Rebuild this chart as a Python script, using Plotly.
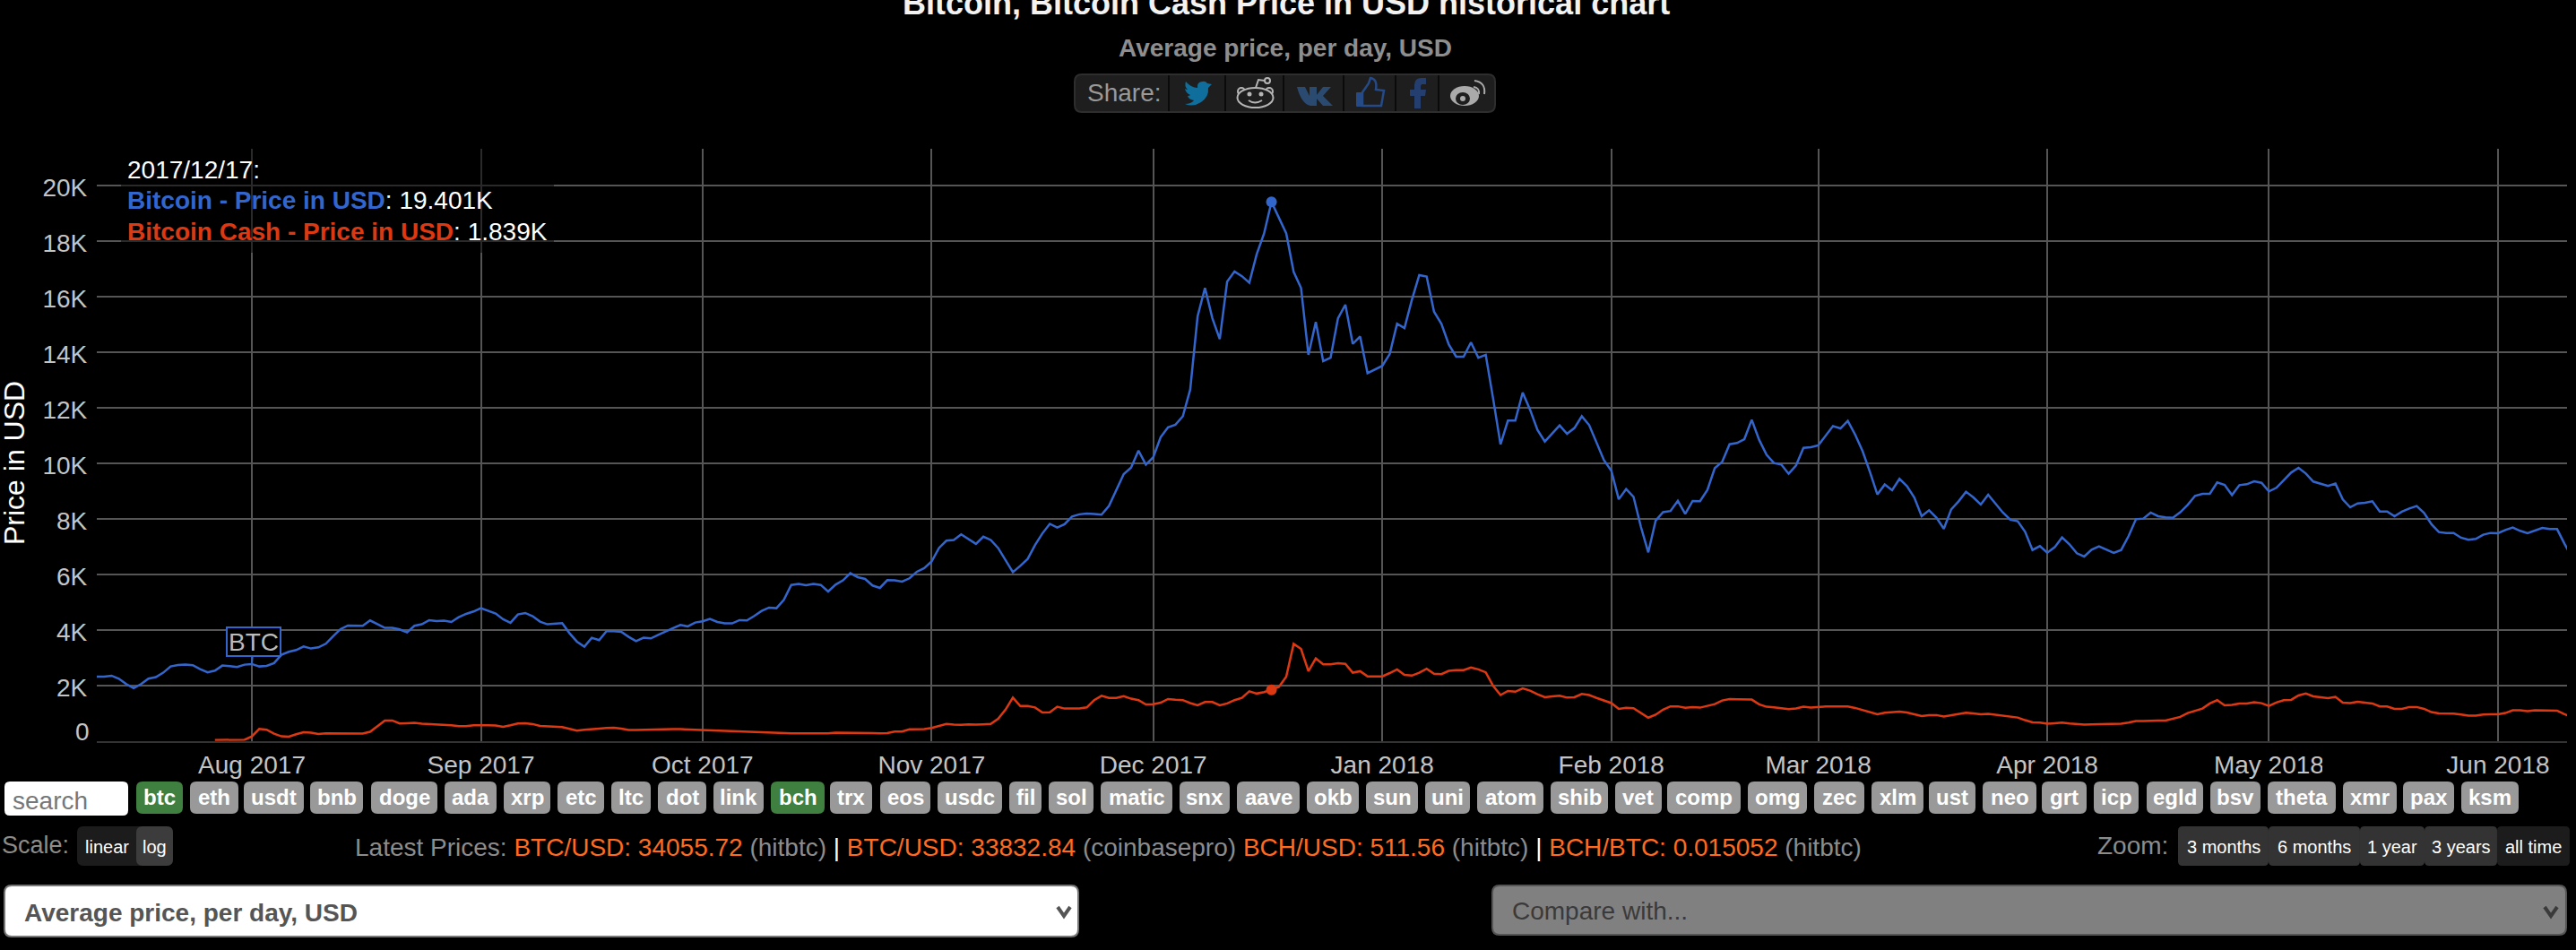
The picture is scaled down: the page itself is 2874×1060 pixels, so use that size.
import pandas as pd
import plotly.graph_objects as go

W = 2874
H = 1060

# daily values, starting 2017-07-11
btc_start = "2017-07-11"
btc_usd = [
    2315, 2315, 2347, 2240, 2046, 1896, 2046, 2240, 2294, 2455,
    2680, 2735, 2745, 2724, 2584, 2466, 2530, 2713, 2691, 2659,
    2745, 2767, 2680, 2702, 2799, 3100, 3208, 3272, 3401, 3326,
    3369, 3498, 3767, 4024, 4153, 4153, 4143, 4336, 4207, 4068,
    4068, 4014, 3906, 4143, 4197, 4347, 4315, 4326, 4282, 4454,
    4573, 4659, 4777, 4670, 4583, 4379, 4250, 4551, 4605, 4487,
    4293, 4197, 4207, 4239, 3874, 3573, 3390, 3713, 3627, 3949,
    3949, 3928, 3745, 3594, 3713, 3691, 3820, 3928, 4057, 4175,
    4121, 4261, 4304, 4390, 4282, 4229, 4229, 4347, 4336, 4497,
    4680, 4798, 4777, 5078, 5615, 5648, 5605, 5648, 5615, 5379,
    5626, 5777, 6035, 5895, 5830, 5594, 5508, 5787, 5780, 5733,
    5852, 6089, 6220, 6457, 6945, 7208, 7234, 7432, 7247, 7090,
    7353, 7234, 6945, 6523, 6076, 6300, 6550, 7050, 7471, 7814,
    7682, 7800, 8077, 8156, 8182, 8169, 8143, 8459, 9025, 9604,
    9841, 10447, 9947, 10210, 10934, 11289, 11382, 11685, 12646, 15279,
    16306, 15213, 14463, 16530, 16898, 16727, 16490, 17517, 18267, 19401,
    18834, 18267, 16885, 16306, 13896, 15081, 13672, 13791, 15213, 15700,
    14291, 14555, 13238, 13370, 13501, 13923, 15015, 14857, 15871, 16767,
    16714, 15450, 15015, 14265, 13830, 13830, 14344, 13791, 13896, 12316,
    10671, 11527, 11527, 12540, 11921, 11197, 10776, 11066, 11355, 11052,
    11263, 11685, 11368, 10736, 10104, 9723, 8696, 9064, 8788, 7708,
    6787, 7932, 8235, 8275, 8640, 8174, 8636, 8626, 9034, 9819,
    10044, 10679, 10722, 10861, 11560, 10840, 10302, 10001, 9948, 9614,
    9916, 10550, 10571, 10636, 10990, 11334, 11248, 11517, 11023, 10432,
    9679, 8873, 9228, 9023, 9432, 9174, 8765, 8088, 8303, 8034,
    7637, 8335, 8625, 8970, 8765, 8507, 8862, 8529, 8217, 7959,
    7905, 7529, 6873, 7013, 6776, 6970, 7325, 7077, 6755, 6637,
    6884, 7002, 6884, 6766, 6873, 7368, 7980, 8002, 8217, 8088,
    8045, 8034, 8228, 8496, 8819, 8894, 8894, 9303, 9217, 8851,
    9206, 9238, 9346, 9292, 8980, 9109, 9378, 9657, 9830, 9625,
    9335, 9260, 9174, 9260, 8690, 8410, 8550, 8572, 8625, 8260,
    8260, 8088, 8249, 8367, 8453, 8206, 7798, 7518, 7486, 7486,
    7314, 7239, 7271, 7422, 7486, 7475, 7593, 7679, 7561, 7475,
    7572, 7668, 7625, 7625, 7099, 6615,
]

# bitcoin cash only starts at the end of july
bch_start = "2017-07-27"
bch_usd = [
    30, 30, 30, 30,
    40, 165, 434, 402, 262, 165, 155, 240, 315, 294,
    251, 272, 272, 267, 262, 262, 262, 326, 541, 735,
    735, 627, 638, 649, 617, 606, 584, 584, 563, 531,
    531, 563, 573, 563, 552, 509, 563, 627, 638, 606,
    541, 531, 531, 499, 434, 370, 402, 412, 445, 466,
    477, 445, 391, 391, 402, 402, 412, 423, 423, 423,
    412, 412, 402, 391, 380, 359, 337, 326, 337, 326,
    315, 294, 283, 278, 272, 272, 272, 272, 272, 272,
    300, 300, 294, 294, 283, 283, 272, 283, 336, 336,
    414, 428, 428, 467, 533, 612, 586, 580, 599, 586,
    599, 612, 796, 1125, 1560, 1257, 1257, 1205, 1020, 1033,
    1231, 1165, 1165, 1165, 1205, 1468, 1625, 1547, 1547, 1612,
    1520, 1468, 1310, 1323, 1375, 1507, 1481, 1468, 1362, 1283,
    1402, 1402, 1283, 1349, 1468, 1547, 1784, 1705, 1758, 1839,
    1942, 2310, 3495, 3311, 2508, 2968, 2758, 2758, 2797, 2771,
    2455, 2508, 2324, 2324, 2324, 2442, 2574, 2376, 2350, 2455,
    2600, 2416, 2403, 2521, 2547, 2547, 2640, 2574, 2468, 1981,
    1652, 1797, 1771, 1889, 1810, 1679, 1573, 1600, 1625, 1560,
    1573, 1692, 1652, 1547, 1455, 1362, 1152, 1191, 1178, 994,
    836, 942, 1125, 1244, 1244, 1195, 1219, 1197, 1262, 1326,
    1455, 1509, 1498, 1487, 1487, 1316, 1229, 1208, 1187, 1144,
    1165, 1229, 1197, 1229, 1240, 1240, 1229, 1240, 1187, 1111,
    1036, 961, 1015, 1025, 1058, 1025, 972, 896, 929, 929,
    875, 918, 982, 1015, 993, 961, 972, 939, 896, 864,
    842, 746, 671, 660, 617, 638, 660, 628, 595, 585,
    595, 606, 606, 606, 617, 660, 714, 714, 735, 735,
    735, 789, 864, 1004, 1090, 1165, 1348, 1466, 1283, 1294,
    1348, 1348, 1391, 1358, 1262, 1380, 1466, 1477, 1638, 1703,
    1606, 1584, 1541, 1584, 1380, 1358, 1412, 1380, 1348, 1240,
    1240, 1154, 1154, 1219, 1219, 1154, 1036, 993, 993, 982,
    950, 907, 907, 950, 961, 961, 1004, 1101, 1101, 1069,
    1101, 1101, 1079, 1090, 961, 864,
]

highlight_date = "2017-12-17"
y_ticks = [0, 2000, 4000, 6000, 8000, 10000, 12000, 14000, 16000, 18000, 20000]
y_labels = ["", "2K", "4K", "6K", "8K", "10K", "12K", "14K", "16K", "18K", "20K"]

coin_tags = ["btc", "eth", "usdt", "bnb", "doge", "ada", "xrp", "etc", "ltc", "dot", "link", "bch",
             "trx", "eos", "usdc", "fil", "sol", "matic", "snx", "aave", "okb", "sun", "uni", "atom",
             "shib", "vet", "comp", "omg", "zec", "xlm", "ust", "neo", "grt", "icp", "egld", "bsv",
             "theta", "xmr", "pax", "ksm"]
active_tags = ["btc", "bch"]
zoom_buttons = ["3 months", "6 months", "1 year", "3 years", "all time"]

# page layout, in screenshot pixels
tag_edges = [(152, 204), (212, 266), (272, 339), (346, 405), (414, 488), (496, 554), (562, 614), (622, 674),
             (682, 726), (734, 788), (796, 852), (860, 920), (926, 973), (982, 1038), (1046, 1118), (1126, 1162),
             (1170, 1220), (1228, 1308), (1316, 1372), (1380, 1450), (1458, 1516), (1524, 1582), (1590, 1640),
             (1648, 1722), (1730, 1794), (1802, 1854), (1860, 1942), (1950, 2016), (2024, 2080), (2088, 2146),
             (2152, 2204), (2212, 2272), (2278, 2328), (2336, 2386), (2395, 2458), (2466, 2522), (2530, 2606),
             (2614, 2674), (2681, 2738), (2746, 2810)]
zoom_edges = [2430, 2531, 2633, 2705, 2786, 2867]
share_dividers = [1304, 1367, 1432, 1499, 1557, 1605]

FONT = "Liberation Sans"
BLUE = "#3366CC"
RED = "#DC3912"
ORANGE = "#FF6A1F"
GREY = "#8C8C8C"


def px(x):
    return x / W


def py(y):
    return 1 - y / H


def path(*parts):
    out = []
    for p in parts:
        if isinstance(p, tuple):
            out.append(f"{px(p[0]):.5f},{py(p[1]):.5f}")
        else:
            out.append(p)
    return " ".join(out)


def round_rect(x0, y0, x1, y1, r):
    return path("M", (x0 + r, y0), "L", (x1 - r, y0), "Q", (x1, y0), (x1, y0 + r),
                "L", (x1, y1 - r), "Q", (x1, y1), (x1 - r, y1),
                "L", (x0 + r, y1), "Q", (x0, y1), (x0, y1 - r),
                "L", (x0, y0 + r), "Q", (x0, y0), (x0 + r, y0), "Z")


def add_path(d, fill=None, line=None, width=0):
    fig.add_shape(type="path", path=d, xref="paper", yref="paper", layer="above",
                  fillcolor=fill if fill else "rgba(0,0,0,0)",
                  line=dict(color=line if line else "rgba(0,0,0,0)", width=width))


def add_box(x0, y0, x1, y1, fill=None, line=None, width=0, r=6):
    add_path(round_rect(x0, y0, x1, y1, r), fill, line, width)


def add_oval(cx, cy, rx, ry, fill=None, line=None, width=0):
    fig.add_shape(type="circle", xref="paper", yref="paper", layer="above",
                  x0=px(cx - rx), x1=px(cx + rx), y0=py(cy + ry), y1=py(cy - ry),
                  fillcolor=fill if fill else "rgba(0,0,0,0)",
                  line=dict(color=line if line else "rgba(0,0,0,0)", width=width))


def add_text(x, y, text, size=28, color="#FFFFFF", anchor="left", angle=0):
    fig.add_annotation(x=px(x), y=py(y), xref="paper", yref="paper", text=text, showarrow=False,
                       xanchor=anchor, yanchor="middle", textangle=angle, borderpad=0,
                       font=dict(family=FONT, size=size, color=color))


def add_chevron(x, y, color):
    add_path(path("M", (x - 7, y - 5), "L", (x, y + 5), "L", (x + 7, y - 5)), None, color, 4)


btc_dates = pd.date_range(btc_start, periods=len(btc_usd), freq="D")
bch_dates = pd.date_range(bch_start, periods=len(bch_usd), freq="D")
btc = pd.Series(btc_usd, index=btc_dates)
bch = pd.Series(bch_usd, index=bch_dates)

fig = go.Figure()
fig.add_trace(go.Scatter(x=btc_dates, y=btc_usd, mode="lines", name="Bitcoin - Price in USD",
                         line=dict(color=BLUE, width=2.5)))
fig.add_trace(go.Scatter(x=bch_dates, y=bch_usd, mode="lines", name="Bitcoin Cash - Price in USD",
                         line=dict(color=RED, width=2.5)))
fig.add_trace(go.Scatter(x=[highlight_date], y=[btc[highlight_date]], mode="markers",
                         marker=dict(color=BLUE, size=12)))
fig.add_trace(go.Scatter(x=[highlight_date], y=[bch[highlight_date]], mode="markers",
                         marker=dict(color=RED, size=12)))

fig.update_layout(
    width=W, height=H, showlegend=False,
    margin=dict(l=0, r=0, t=0, b=0),
    paper_bgcolor="#000000", plot_bgcolor="#000000",
    font=dict(family=FONT, size=28, color="#CCCCCC"),
    xaxis=dict(domain=[107.9 / W, 2864 / W], type="date",
               range=["2017-07-11", "2018-06-10 08:24"],
               dtick="M1", tick0="2017-08-01", tickformat="%b %Y",
               gridcolor="#555555", gridwidth=2, showline=True, linecolor="#333333", linewidth=2,
               ticks="outside", ticklen=1, tickcolor="#000000", zeroline=False,
               tickfont=dict(size=28, color="#C4C4C4")),
    yaxis=dict(domain=[1 - 826.7 / H, 1 - 166 / H], range=[0, 21313],
               tickvals=y_ticks, ticktext=y_labels, gridcolor="#555555", gridwidth=2,
               zeroline=False, ticks="outside", ticklen=4, tickcolor="#000000",
               ticklabelshift=2, tickfont=dict(size=28, color="#C4C4C4")),
)

# dim the grid behind the value readout
fig.add_shape(type="rect", xref="paper", yref="paper", layer="above", x0=px(135), x1=px(618),
              y0=py(282), y1=py(166), fillcolor="rgba(0,0,0,0.5)", line=dict(width=0))
# the May tick label is cut by its neighbour in the page
fig.add_shape(type="rect", xref="paper", yref="paper", layer="above", x0=px(2591), x1=px(2600),
              y0=py(866), y1=py(834), fillcolor="#000000", line=dict(width=0))

add_text(1435, 3, "<b>Bitcoin, Bitcoin Cash Price in USD historical chart</b>", 36, "#F2F2F2", "center")
add_text(1434, 54, "<b>Average price, per day, USD</b>", 28, "#8E8E8E", "center")
add_text(16, 517, "Price in USD", 32, "#FFFFFF", "center", -90)
add_text(101, 816, "0", 28, "#C4C4C4", "right")

# readout of the highlighted day
add_text(141, 190, "2017/12/17:", 28)
add_text(141, 224, f'<span style="color:{BLUE}"><b>Bitcoin - Price in USD</b></span>: 19.401K', 28)
add_text(141, 258, f'<span style="color:{RED}"><b>Bitcoin Cash - Price in USD</b></span>: 1.839K', 28)

# series tag on the btc line
fig.add_annotation(x="2017-08-01", y=btc["2017-08-01"], xref="x", yref="y", text="BTC", showarrow=True,
                   arrowhead=0, arrowcolor=BLUE, arrowwidth=2, ax=2, ay=-25, width=58, height=30,
                   bgcolor="#000000", bordercolor=BLUE, borderwidth=2, borderpad=0,
                   font=dict(family=FONT, size=28, color="#BBBBBB"))

# share bar
add_box(1199, 83, 1668, 125, "#1E1E1E", "#2E2E2E", 2, 8)
for x in share_dividers:
    add_path(path("M", (x, 84), "L", (x, 124)), None, "#0A0A0A", 2)
add_text(1212, 104, "Share:", 28, "#999999")
add_path(path("M", (1352, 94), "L", (1348, 98), "Q", (1349, 108), (1340, 114), "Q", (1331, 120), (1322, 116),
              "Q", (1329, 116), (1332, 112), "Q", (1326, 111), (1325, 107), "Q", (1327, 107), (1328, 106),
              "Q", (1323, 104), (1322, 99), "Q", (1324, 100), (1325, 100), "Q", (1321, 96), (1323, 91),
              "Q", (1329, 98), (1336, 98), "Q", (1335, 92), (1341, 91), "Q", (1345, 90), (1347, 93), "Z"),
         "#0F6E9C")
add_oval(1385, 102, 4, 4, None, "#B5B5B5", 2)
add_oval(1416, 102, 4, 4, None, "#B5B5B5", 2)
add_oval(1400.5, 109, 20, 11, "#1E1E1E", "#B5B5B5", 2)
add_oval(1394, 105, 2.5, 2.5, "#B5B5B5")
add_oval(1407, 105, 2.5, 2.5, "#B5B5B5")
add_path(path("M", (1393, 112), "Q", (1400, 117), (1408, 112)), None, "#B5B5B5", 2)
add_path(path("M", (1401, 98), "L", (1404, 89), "L", (1411, 90)), None, "#B5B5B5", 2)
add_oval(1414, 90, 3, 3, None, "#B5B5B5", 2)
add_path(path("M", (1447, 97), "L", (1456, 97), "L", (1461, 107), "L", (1461, 97), "L", (1469, 97),
              "L", (1469, 106), "L", (1476, 97), "L", (1485, 97), "L", (1476, 107), "L", (1487, 118),
              "L", (1476, 118), "L", (1469, 110), "L", (1469, 118), "L", (1462, 118),
              "Q", (1452, 116), (1447, 97), "Z"), "#2B4A70")
add_path(path("M", (1520, 103), "L", (1527, 93), "L", (1529, 87), "Q", (1537, 88), (1535, 100),
              "L", (1544, 101), "L", (1541, 118), "L", (1520, 118), "Z"), None, "#254A86", 2.5)
add_box(1513, 103, 1520, 119, "#254A86", None, 0, 1)
add_path(path("M", (1591, 87), "L", (1591, 94), "L", (1587, 94), "Q", (1585, 94), (1585, 97), "L", (1585, 100),
              "L", (1591, 100), "L", (1590, 107), "L", (1585, 107), "L", (1585, 121), "L", (1578, 121),
              "L", (1578, 107), "L", (1573, 107), "L", (1573, 100), "L", (1578, 100), "L", (1578, 95),
              "Q", (1578, 87), (1586, 87), "Z"), "#243F6F")
add_oval(1634, 107, 16, 11, "#AAAAAA")
add_oval(1632, 110, 8, 7, "#1E1E1E")
add_oval(1632, 110, 3, 3, "#AAAAAA")
add_path(path("M", (1644, 97), "Q", (1651, 98), (1650, 105)), None, "#AAAAAA", 2)
add_path(path("M", (1645, 90), "Q", (1658, 92), (1656, 105)), None, "#AAAAAA", 2)

# coin tags
add_box(5, 872, 143, 910, "#FFFFFF", None, 0, 6)
add_text(13, 893, "search", 28, "#777777")
for name, (x0, x1) in zip(coin_tags, tag_edges):
    add_box(x0, 872, x1, 908, "#3F7F3F" if name in active_tags else "#999999", None, 0, 7)
    add_text((x0 + x1) / 2, 889, f"<b>{name}</b>", 24, "#FFFFFF", "center")

# scale buttons
add_text(1, 943, "Scale:", 27, GREY)
add_box(86, 922, 193, 966, "#1C1C1C", None, 0, 7)
add_box(152, 922, 193, 966, "#3C3C3C", None, 0, 7)
add_text(119, 945, "linear", 20, "#FFFFFF", "center")
add_text(172, 945, "log", 20, "#FFFFFF", "center")

# latest prices line
gsep = '<span style="color:#FFFFFF"> | </span>'


def price(label, source):
    return f'<span style="color:{ORANGE}">{label}</span> ({source})'


add_text(395, 945,
         "Latest Prices: " + price("BTC/USD: 34055.72", "hitbtc") + gsep
         + price("BTC/USD: 33832.84", "coinbasepro") + " " + price("BCH/USD: 511.56", "hitbtc") + gsep
         + price("BCH/BTC: 0.015052", "hitbtc"),
         28, GREY)

# zoom buttons
add_text(2339, 943, "Zoom:", 28, GREY)
for i, label in enumerate(zoom_buttons):
    x0, x1 = zoom_edges[i], zoom_edges[i + 1]
    add_box(x0, 922, x1, 966, "#1C1C1C" if label == "all time" else "#333333", None, 0, 5)
    add_text((x0 + x1) / 2, 945, label, 20, "#FFFFFF", "center")

# dropdowns
add_box(5, 988, 1203, 1045, "#FFFFFF", "#777777", 2, 8)
add_text(26, 1018, "<b>Average price, per day, USD</b>", 28, "#555555")
add_chevron(1187, 1017, "#555555")
add_box(1665, 988, 2863, 1043, "#808080", "#555555", 2, 8)
add_text(1686, 1016, "Compare with...", 28, "#3A3A3A")
add_chevron(2846, 1017, "#3A3A3A")

fig.write_html("out.html", config=dict(displayModeBar=False),
               post_script="document.body.style.margin='0';document.body.style.background='#000';")
